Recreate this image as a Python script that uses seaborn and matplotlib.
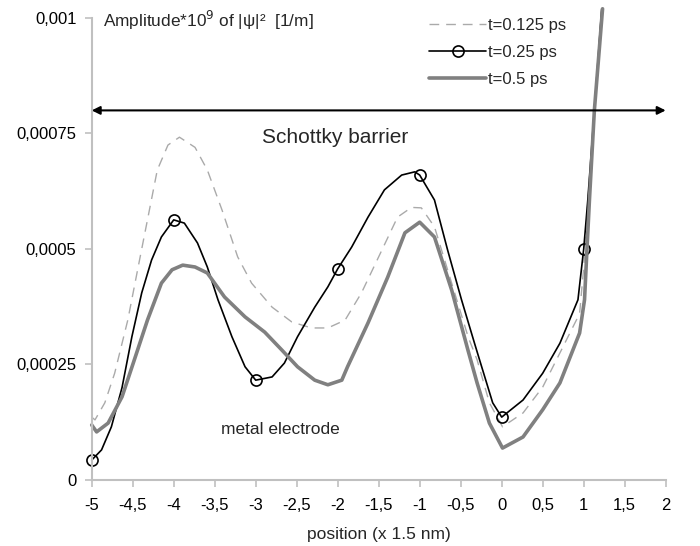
import matplotlib
matplotlib.use("Agg")
import matplotlib.pyplot as plt
from matplotlib.ticker import FuncFormatter
import seaborn as sns

# t = 0.125 ps (dashed)
x_125 = [-5, -4.96, -4.84, -4.72, -4.56, -4.44, -4.32, -4.2, -4.07, -3.93, -3.74, -3.59,
         -3.41, -3.22, -3.05, -2.8, -2.56, -2.32, -2.12, -1.91, -1.71, -1.46, -1.27, -1.1,
         -0.98, -0.82, -0.61, -0.41, -0.3, -0.15, 0.01, 0.26, 0.5, 0.71, 0.95, 1.0, 1.05,
         1.13, 1.22]
y_125 = [0.000136, 0.00013, 0.000167, 0.000231, 0.000346, 0.000455, 0.000563, 0.000671,
         0.000725, 0.000742, 0.00072, 0.000671, 0.000584, 0.000483, 0.000426, 0.000374,
         0.000342, 0.000329, 0.000329, 0.000346, 0.000405, 0.000498, 0.000569, 0.00059,
         0.000589, 0.000548, 0.000426, 0.00031, 0.00026, 0.000167, 0.000115, 0.000145,
         0.000201, 0.000275, 0.00036, 0.00046, 0.0006, 0.0008, 0.00102]

# t = 0.25 ps (black, circles at integer positions)
x_25 = [-5, -4.88, -4.76, -4.63, -4.51, -4.39, -4.27, -4.15, -4.0, -3.87, -3.71, -3.59,
        -3.46, -3.29, -3.13, -3.0, -2.8, -2.65, -2.49, -2.28, -2.12, -2.0, -1.83, -1.63,
        -1.43, -1.22, -1.06, -1.0, -0.82, -0.66, -0.49, -0.33, -0.27, -0.11, 0.0, 0.26,
        0.5, 0.71, 0.93, 1.0, 1.05, 1.13, 1.22]
y_25 = [0.000043, 0.000065, 0.000115, 0.0002, 0.00031, 0.000405, 0.000476, 0.000526,
        0.000563, 0.000556, 0.000513, 0.000461, 0.00039, 0.00031, 0.000245, 0.000216,
        0.000223, 0.000253, 0.00031, 0.000374, 0.000418, 0.000457, 0.000504, 0.000569,
        0.000628, 0.00066, 0.000667, 0.00066, 0.000606, 0.000498, 0.00039, 0.000295,
        0.00026, 0.000167, 0.000136, 0.000173, 0.000231, 0.000296, 0.00039, 0.0005,
        0.000606, 0.0008, 0.00102]

# t = 0.5 ps (thick grey)
x_50 = [-5, -4.94, -4.8, -4.63, -4.48, -4.32, -4.15, -4.02, -3.89, -3.74, -3.59, -3.38,
        -3.13, -2.89, -2.68, -2.49, -2.28, -2.12, -1.95, -1.88, -1.63, -1.39, -1.18, -1.0,
        -0.82, -0.61, -0.41, -0.3, -0.15, 0.01, 0.26, 0.5, 0.71, 0.95, 1.01, 1.04, 1.07,
        1.13, 1.23]
y_50 = [0.000119, 0.000104, 0.000123, 0.00018, 0.00026, 0.000346, 0.000426, 0.000455,
        0.000465, 0.000461, 0.000448, 0.000396, 0.000353, 0.00032, 0.000281, 0.000245,
        0.000216, 0.000206, 0.000216, 0.000245, 0.00034, 0.000439, 0.000535, 0.000558,
        0.000526, 0.000411, 0.00028, 0.00021, 0.000123, 0.000069, 0.000093, 0.000152,
        0.00021, 0.000318, 0.00039, 0.0005, 0.000606, 0.0008, 0.00102]

x_ticks = [-5, -4.5, -4, -3.5, -3, -2.5, -2, -1.5, -1, -0.5, 0, 0.5, 1, 1.5, 2]
y_ticks = [0, 0.00025, 0.0005, 0.00075, 0.001]
barrier_level = 0.0008

sns.set_style("white")
plt.rcParams['font.family'] = ['Liberation Sans', 'DejaVu Sans']

fig = plt.figure(figsize=(7, 5.46), dpi=100)
ax = fig.add_axes([0.131, 0.121, 0.82, 0.846])

marks = [i for i, v in enumerate(x_25) if float(v).is_integer()]

sns.lineplot(x=x_125, y=y_125, ax=ax, color='#aaaaaa', lw=1.0,
             linestyle=(0, (7, 5)), sort=False, label='t=0.125 ps', clip_on=False)
sns.lineplot(x=x_25, y=y_25, ax=ax, color='black', lw=1.2, sort=False, marker='o',
             markevery=marks, markersize=8, markerfacecolor='none',
             markeredgecolor='black', markeredgewidth=1.2, label='t=0.25 ps', clip_on=False)
sns.lineplot(x=x_50, y=y_50, ax=ax, color='#808080', lw=2.6, sort=False,
             label='t=0.5 ps', clip_on=False)

ax.set_xlim(-5, 2)
ax.set_ylim(0, 0.001)
ax.set_xticks(x_ticks)
ax.set_yticks(y_ticks)
fmt = FuncFormatter(lambda v, p: '{:g}'.format(v).replace('.', ','))
ax.xaxis.set_major_formatter(fmt)
ax.yaxis.set_major_formatter(fmt)
ax.tick_params(axis='both', labelsize=12, colors='black', length=5, width=1.2,
               direction='out', color='#c0c0c0', left=True, bottom=True)
ax.tick_params(axis='x', pad=8)
ax.tick_params(axis='y', pad=6)
for s in ['top', 'right']:
    ax.spines[s].set_visible(False)
for s in ['left', 'bottom']:
    ax.spines[s].set_color('#c0c0c0')
    ax.spines[s].set_linewidth(1.5)

ax.set_xlabel('position (x 1.5 nm)', fontsize=12.5, labelpad=10)
ax.set_ylabel('')

ax.annotate('', xy=(-5, barrier_level), xytext=(2, barrier_level),
            arrowprops=dict(arrowstyle='<|-|>', color='black', lw=1.5,
                            mutation_scale=12, shrinkA=0, shrinkB=0),
            annotation_clip=False)
ax.text(-2.03, 0.000742, 'Schottky barrier', fontsize=15, ha='center', va='center')
ax.text(-2.7, 0.00011, 'metal electrode', fontsize=12.5, ha='center', va='center')
ax.text(0.019, 0.995, 'Amplitude*10$^9$ of |ψ|²  [1/m]', transform=ax.transAxes,
        fontsize=12.4, ha='left', va='center')

ax.legend(loc='upper left', bbox_to_anchor=(0.562, 1.033), frameon=False, fontsize=12,
          handlelength=3.4, labelspacing=0.72, handletextpad=0.15)

fig.savefig('out.png', dpi=100)
